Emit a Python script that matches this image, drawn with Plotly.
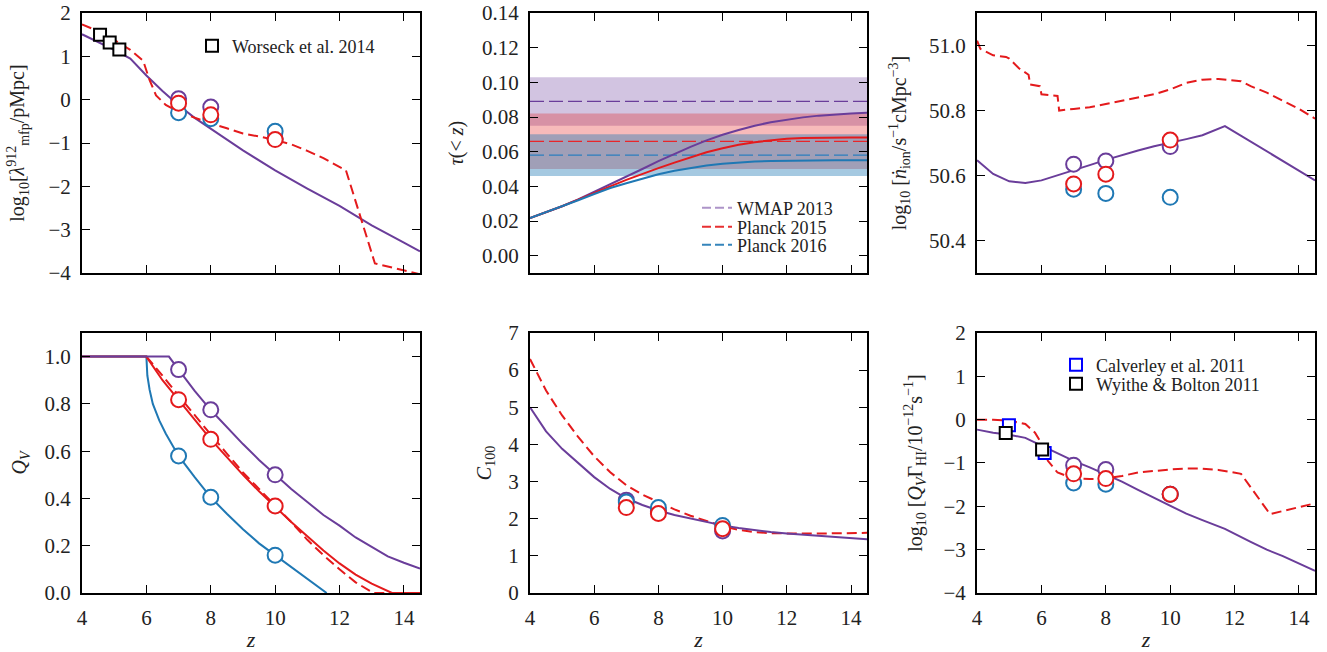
import plotly.graph_objects as go

PURPLE = "#6a3d9a"
RED = "#e41a1c"
BLUE = "#1f78b4"

# ---------------- Panel 1: mean free path ----------------
p1_z_purple = [4, 4.5, 5, 5.5, 6, 6.5, 7, 7.5, 8, 9, 10, 11, 12, 13, 14, 14.5]
p1_purple = [1.51, 1.33, 1.15, 0.95, 0.56, 0.2, -0.13, -0.42, -0.67, -1.17, -1.63, -2.05, -2.45, -2.9, -3.3, -3.5]
p1_z_red = [4, 4.5, 5, 5.5, 5.9, 6.1, 6.3, 6.6, 7, 7.5, 8, 8.5, 9, 9.5, 10, 10.5, 11, 11.5, 12.2, 13.1, 14.5]
p1_red = [1.74, 1.58, 1.38, 1.15, 0.9, 0.45, 0.1, -0.12, -0.28, -0.42, -0.55, -0.66, -0.78, -0.85, -0.93, -1.03,
          -1.18, -1.35, -1.63, -3.78, -4.03]
pts_z = [7, 8, 10]
p1_pts_purple = [0.02, -0.17, -0.9]
p1_pts_blue = [-0.3, -0.44, -0.73]
p1_pts_red = [-0.08, -0.35, -0.92]
worseck_z = [4.56, 4.86, 5.16]
worseck_v = [1.5, 1.32, 1.16]

# ---------------- Panel 2: optical depth ----------------
p2_z = [4, 4.5, 5, 5.5, 6, 6.5, 7, 7.5, 8, 8.5, 9, 9.5, 10, 10.5, 11, 11.5, 12, 12.5, 13, 13.5, 14, 14.5]
p2_purple = [0.0217, 0.025, 0.0285, 0.0325, 0.0368, 0.041, 0.0455, 0.050, 0.0545, 0.0588, 0.0628, 0.0665, 0.0698,
             0.0725, 0.0750, 0.0770, 0.0785, 0.0798, 0.0808, 0.0815, 0.0820, 0.0824]
p2_red = [0.0217, 0.025, 0.0285, 0.0323, 0.0363, 0.040, 0.0437, 0.0472, 0.0505, 0.0537, 0.0568, 0.0597, 0.062,
          0.064, 0.0655, 0.0667, 0.0675, 0.0679, 0.0681, 0.0682, 0.0682, 0.0682]
p2_blue = [0.0217, 0.025, 0.0283, 0.032, 0.0356, 0.039, 0.0418, 0.0445, 0.0470, 0.049, 0.0507, 0.052, 0.053,
           0.0538, 0.0543, 0.0546, 0.0548, 0.0549, 0.055, 0.055, 0.055, 0.055]
cmb_names = ["WMAP 2013", "Planck 2015", "Planck 2016"]
cmb_tau = [0.089, 0.066, 0.058]
cmb_sigma = [0.014, 0.016, 0.012]

# ---------------- Panel 3: ionising emissivity ----------------
p3_z_red = [4, 4.1, 4.5, 4.9, 5.0, 5.3, 5.6, 5.65, 5.95, 6.0, 6.5, 6.55, 7.0, 7.5, 8, 8.5, 9, 9.5, 10, 10.5, 11,
            11.5, 12.2, 12.5, 13, 13.5, 14, 14.5]
p3_red = [51.015, 50.99, 50.97, 50.965, 50.96, 50.93, 50.91, 50.88, 50.875, 50.85, 50.845, 50.80, 50.805, 50.81,
          50.82, 50.83, 50.84, 50.85, 50.865, 50.885, 50.895, 50.897, 50.89, 50.875, 50.855, 50.83, 50.805, 50.775]
p3_z_purple = [4, 4.5, 5, 5.5, 6, 6.5, 7, 7.5, 8, 8.5, 9, 9.5, 10, 10.5, 11, 11.7, 14.5]
p3_purple = [50.647, 50.605, 50.582, 50.577, 50.585, 50.6, 50.615, 50.632, 50.648, 50.663, 50.677, 50.69, 50.70,
             50.712, 50.724, 50.752, 50.585]
p3_pts_purple = [50.635, 50.645, 50.689]
p3_pts_blue = [50.558, 50.545, 50.533]
p3_pts_red = [50.574, 50.604, 50.709]

# ---------------- Panel 4: volume filling factor ----------------
p4_z_blue = [4, 6, 6.03, 6.1, 6.2, 6.4, 6.6, 7, 7.5, 8, 8.5, 9, 9.5, 10, 10.5, 11, 11.6]
p4_blue = [1, 1, 0.92, 0.86, 0.80, 0.73, 0.675, 0.58, 0.49, 0.405, 0.335, 0.27, 0.21, 0.16, 0.108, 0.06, 0.0]
p4_z_red = [4, 6, 6.5, 7, 7.5, 8, 8.5, 9, 9.5, 10, 10.5, 11, 11.5, 12, 12.5, 13, 13.63, 14.5]
p4_red = [1, 1, 0.9, 0.816, 0.73, 0.65, 0.575, 0.5, 0.43, 0.365, 0.3, 0.24, 0.18, 0.125, 0.078, 0.04, 0.0, 0.0]
p4_z_red_dash = [6, 6.5, 7, 7.5, 8, 8.5, 9, 9.5, 10, 10.5, 11, 11.5, 12, 12.5, 13.05, 14.5]
p4_red_dash = [1.0, 0.92, 0.835, 0.75, 0.67, 0.59, 0.51, 0.44, 0.37, 0.3, 0.225, 0.16, 0.1, 0.045, 0.0, 0.0]
p4_z_purple = [4, 6.7, 7, 7.5, 8, 8.5, 9, 9.5, 10, 10.5, 11, 11.5, 12, 12.5, 13, 13.5, 14, 14.5]
p4_purple = [1, 1.0, 0.945, 0.855, 0.774, 0.7, 0.63, 0.563, 0.5, 0.44, 0.385, 0.33, 0.285, 0.235, 0.195, 0.155,
             0.128, 0.103]
p4_pts_purple = [0.945, 0.775, 0.5]
p4_pts_blue = [0.58, 0.405, 0.16]
p4_pts_red = [0.818, 0.65, 0.368]

# ---------------- Panel 5: clumping factor ----------------
p5_z = [4, 4.5, 5, 5.5, 6, 6.5, 7, 7.5, 8, 8.5, 9, 9.5, 10, 10.5, 11, 11.5, 12, 12.5, 13, 13.5, 14, 14.5]
p5_red = [6.3, 5.45, 4.78, 4.2, 3.68, 3.25, 2.9, 2.65, 2.45, 2.25, 2.08, 1.93, 1.8, 1.7, 1.64, 1.61, 1.6, 1.6,
          1.6, 1.61, 1.62, 1.62]
p5_purple = [5.0, 4.35, 3.88, 3.5, 3.12, 2.8, 2.55, 2.37, 2.22, 2.1, 2.0, 1.9, 1.82, 1.75, 1.69, 1.64, 1.6, 1.57,
             1.54, 1.5, 1.47, 1.445]
p5_pts_purple = [2.5, 2.2, 1.67]
p5_pts_blue = [2.45, 2.3, 1.82]
p5_pts_red = [2.3, 2.14, 1.73]

# ---------------- Panel 6: photoionisation rate ----------------
p6_z_purple = [4, 4.5, 5, 5.5, 6, 6.5, 7, 7.5, 8, 8.5, 9, 9.5, 10, 10.5, 11, 11.7, 12.5, 13, 13.5, 14, 14.5]
p6_purple = [-0.23, -0.3, -0.35, -0.42, -0.6, -0.78, -0.95, -1.1, -1.26, -1.43, -1.62, -1.8, -1.98, -2.17, -2.32,
             -2.52, -2.82, -3.0, -3.15, -3.32, -3.49]
p6_z_red = [4, 4.5, 5, 5.5, 5.8, 6.0, 6.2, 6.5, 7, 7.5, 8, 8.5, 9, 9.5, 10, 10.5, 11, 11.5, 12.2, 13.1, 14.5]
p6_red = [0.0, 0.0, -0.02, -0.1, -0.3, -0.55, -0.95, -1.22, -1.36, -1.37, -1.36, -1.3, -1.22, -1.18, -1.15, -1.13,
          -1.13, -1.16, -1.25, -2.18, -1.93]
p6_pts_purple = [-1.05, -1.15, -1.72]
p6_pts_blue = [-1.46, -1.49, -1.72]
p6_pts_red = [-1.25, -1.36, -1.72]
calverley_z = [4.99, 6.1]
calverley_v = [-0.13, -0.77]
wyithe_z = [4.89, 6.02]
wyithe_v = [-0.31, -0.69]

FONT = "Liberation Serif, DejaVu Serif, serif"
fig = go.Figure()


def line(ax, x, y, color, dash=None, width=2):
    fig.add_trace(go.Scatter(x=x, y=y, mode="lines", xaxis="x%d" % ax, yaxis="y%d" % ax, showlegend=False,
                             line=dict(color=color, width=width, dash=dash), hoverinfo="skip"))


def circles(ax, y, color):
    fig.add_trace(go.Scatter(x=pts_z, y=y, mode="markers", xaxis="x%d" % ax, yaxis="y%d" % ax, showlegend=False,
                             marker=dict(symbol="circle", size=15, color="white", line=dict(color=color, width=2))))


def circle_set(ax, yp, yb, yr):
    circles(ax, yp, PURPLE)
    circles(ax, yb, BLUE)
    circles(ax, yr, RED)


RDASH = "10px,5px"

# Panel 1
line(1, p1_z_purple, p1_purple, PURPLE)
line(1, p1_z_red, p1_red, RED, RDASH)
circle_set(1, p1_pts_purple, p1_pts_blue, p1_pts_red)
fig.add_trace(go.Scatter(x=worseck_z, y=worseck_v, mode="markers", xaxis="x1", yaxis="y1", name="Worseck et al. 2014",
                         legend="legend",
                         marker=dict(symbol="square", size=12, color="white", line=dict(color="black", width=2))))

# Panel 2 bands and lines
band_fill = [PURPLE, RED, BLUE]
band_alpha = [0.3, 0.3, 0.4]
for tau, sig, c, a in zip(cmb_tau, cmb_sigma, band_fill, band_alpha):
    fig.add_shape(type="rect", xref="x2 domain", yref="y2", x0=0, x1=1, y0=tau - sig, y1=tau + sig,
                  fillcolor=c, opacity=a, line=dict(width=0), layer="below")
line_cols = ["#6a3d9a", "#e8262a", "#2a7fbf"]
for tau, c in zip(cmb_tau, line_cols):
    line(2, [4, 14.5], [tau, tau], c, "14px,5px", 1.2)
line(2, p2_z, p2_purple, PURPLE)
line(2, p2_z, p2_red, RED)
line(2, p2_z, p2_blue, BLUE)
leg_colors = ["rgba(106,61,154,0.55)", "rgba(228,26,28,0.9)", "rgba(31,120,180,0.9)"]
for k, (nm, c) in enumerate(zip(cmb_names, leg_colors)):
    fig.add_trace(go.Scatter(x=[None], y=[None], mode="lines", xaxis="x2", yaxis="y2", name=nm,
                             legend="legend%d" % (k + 2), line=dict(color=c, width=2, dash="9px,4px")))

# Panel 3
line(3, p3_z_red, p3_red, RED, RDASH)
line(3, p3_z_purple, p3_purple, PURPLE)
circle_set(3, p3_pts_purple, p3_pts_blue, p3_pts_red)

# Panel 4
line(4, p4_z_blue, p4_blue, BLUE)
line(4, p4_z_red, p4_red, RED)
line(4, p4_z_red_dash, p4_red_dash, RED, RDASH)
line(4, p4_z_purple, p4_purple, PURPLE)
circle_set(4, p4_pts_purple, p4_pts_blue, p4_pts_red)

# Panel 5
line(5, p5_z, p5_red, RED, RDASH)
line(5, p5_z, p5_purple, PURPLE)
circle_set(5, p5_pts_purple, p5_pts_blue, p5_pts_red)

# Panel 6
line(6, p6_z_purple, p6_purple, PURPLE)
line(6, p6_z_red, p6_red, RED, RDASH)
circle_set(6, p6_pts_purple, p6_pts_blue, p6_pts_red)
fig.add_trace(go.Scatter(x=calverley_z, y=calverley_v, mode="markers", xaxis="x6", yaxis="y6",
                         name="Calverley et al. 2011", legend="legend5",
                         marker=dict(symbol="square", size=12, color="white", line=dict(color="#0000ff", width=2))))
fig.add_trace(go.Scatter(x=wyithe_z, y=wyithe_v, mode="markers", xaxis="x6", yaxis="y6",
                         name="Wyithe &amp; Bolton 2011", legend="legend6",
                         marker=dict(symbol="square", size=12, color="white", line=dict(color="black", width=2))))

cols = [[0.0618, 0.3165], [0.3994, 0.6534], [0.7363, 0.991]]
rows = [[0.5813, 0.980], [0.0905, 0.4893]]

common = dict(showline=True, linewidth=2, linecolor="black", mirror="ticks", ticks="inside", ticklen=8,
              tickwidth=1.3, tickcolor="black", showgrid=False, zeroline=False, automargin=False,
              tickfont=dict(family=FONT, size=21, color="#222"))

ytitles = [
    "log<sub>10</sub>[<i>λ</i><sup>912</sup><sub>mfp</sub>/pMpc]",
    "<i>τ</i>(&lt; <i>z</i>)",
    "log<sub>10</sub> [<i>ṅ</i><sub>ion</sub>/s<sup>−1</sup>cMpc<sup>−3</sup>]",
    "<i>Q<sub>V</sub></i>",
    "<i>C</i><sub>100</sub>",
    "log<sub>10</sub> [<i>Q<sub>V</sub></i>Γ<sub>HI</sub>/10<sup>−12</sup>s<sup>−1</sup>]",
]
yranges = [[-4, 2], [-0.01, 0.14], [50.3, 51.1], [0, 1.1], [0, 7], [-4, 2]]
ydt = [dict(dtick=1), dict(dtick=0.02, tick0=0, tickformat=".2f"), dict(dtick=0.2, tick0=50.4, tickformat=".1f"),
       dict(dtick=0.2, tick0=0, tickformat=".1f"), dict(dtick=1), dict(dtick=1)]
ystand = [18, 13, 17, 13, 11, 16]

layout = {}
for i in range(6):
    r, c = divmod(i, 3)
    n = i + 1
    xa = dict(common, domain=cols[c], range=[4, 14.5], dtick=2, tick0=4, anchor="y%d" % n,
              showticklabels=(r == 1), ticklabelstandoff=5)
    if r == 1:
        xa["title"] = dict(text="<i>z</i>", font=dict(family=FONT, size=22, color="#222"), standoff=15)
    ya = dict(common, domain=rows[r], range=yranges[i], anchor="x%d" % n, ticklabelstandoff=5,
              title=dict(text=ytitles[i], font=dict(family=FONT, size=20, color="#222"), standoff=ystand[i]),
              **ydt[i])
    layout["xaxis%d" % n] = xa
    layout["yaxis%d" % n] = ya

leg_common = dict(bgcolor="rgba(0,0,0,0)", font=dict(family=FONT, size=18, color="#222"), xanchor="left",
                  yanchor="middle", tracegroupgap=0)
# legend item centres (pixels)
leg_pos = [(192, 46), (697, 208), (697, 227), (697, 245), (1056, 365), (1056, 384)]
for k, (lx, ly) in enumerate(leg_pos):
    key = "legend" if k == 0 else "legend%d" % (k + 1)
    layout[key] = dict(leg_common, x=lx / 1327, y=1 - ly / 652)

fig.update_layout(
    width=1327, height=652, margin=dict(l=0, r=0, t=0, b=0), plot_bgcolor="white", paper_bgcolor="white",
    **layout,
)
fig.write_html("out.html")
